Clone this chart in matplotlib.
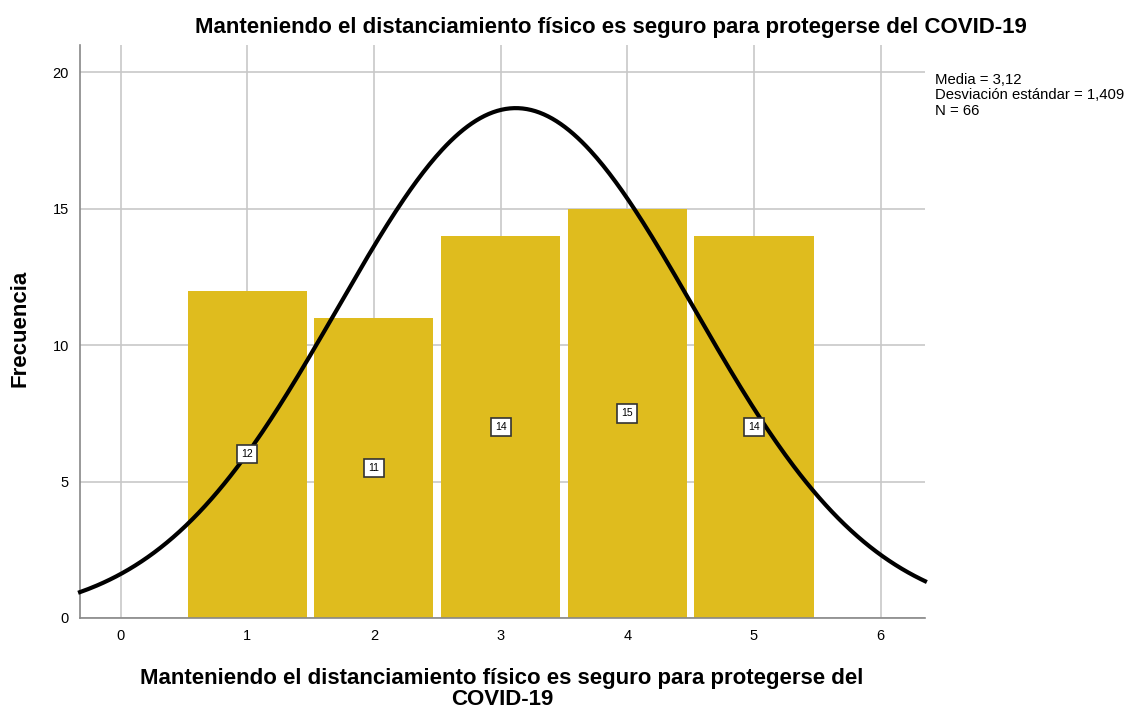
import numpy as np
import matplotlib
matplotlib.use("Agg")
import matplotlib.pyplot as plt

plt.rcParams['font.family'] = ['Liberation Sans', 'DejaVu Sans']

categories = [1, 2, 3, 4, 5]
counts = [12, 11, 14, 15, 14]
mean = 3.12
sd = 1.409
n = 66
xticks = [0, 1, 2, 3, 4, 5, 6]
yticks = [0, 5, 10, 15, 20]
title = "Manteniendo el distanciamiento físico es seguro para protegerse del COVID-19"
xlabel = "Manteniendo el distanciamiento físico es seguro para protegerse del\nCOVID-19"
ylabel = "Frecuencia"

fig = plt.figure(figsize=(11.4, 7.1), dpi=100)
ax = fig.add_axes([0.0702, 0.1296, 0.7412, 0.807])

ax.set_xlim(-0.32, 6.35)
ax.set_ylim(0, 21)
ax.set_axisbelow(True)
ax.grid(True, color='#c8c8c8', linewidth=1.2)
ax.set_xticks(xticks)
ax.set_yticks(yticks)
ax.tick_params(length=0, labelsize=10.5, pad=8)
for s in ['top', 'right']:
    ax.spines[s].set_visible(False)
for s in ['left', 'bottom']:
    ax.spines[s].set_color('#888888')
    ax.spines[s].set_linewidth(1.2)

ax.bar(categories, counts, width=0.94, color='#DFBC1E', edgecolor='none', zorder=2)

xs = np.linspace(-0.32, 6.35, 400)
ys = n * 1.0 / (sd * np.sqrt(2 * np.pi)) * np.exp(-0.5 * ((xs - mean) / sd) ** 2)
ax.plot(xs, ys, color='black', linewidth=3, zorder=3, clip_on=False)

for c, v in zip(categories, counts):
    ax.text(c, v / 2, str(v), ha='center', va='center', fontsize=7.5, zorder=4,
            bbox=dict(boxstyle='square,pad=0.4', facecolor='white', edgecolor='#333333', linewidth=1.2))

fig.text(611 / 1140, 1 - 27 / 710, title, fontsize=16, fontweight='bold', ha='center', va='center')
fig.text(502 / 1140, 1 - 689 / 710, xlabel, fontsize=16, fontweight='bold', ha='center', va='center',
         linespacing=1.05)
fig.text(20 / 1140, 1 - 328 / 710, ylabel, fontsize=16, fontweight='bold', ha='center', va='center',
         rotation=90)

fig.text(935 / 1140, 1 - 73 / 710, "Media = 3,12\nDesviación estándar = 1,409\nN = 66",
         fontsize=10.7, va='top', ha='left', linespacing=1.12)

fig.savefig('out.png', dpi=100)
